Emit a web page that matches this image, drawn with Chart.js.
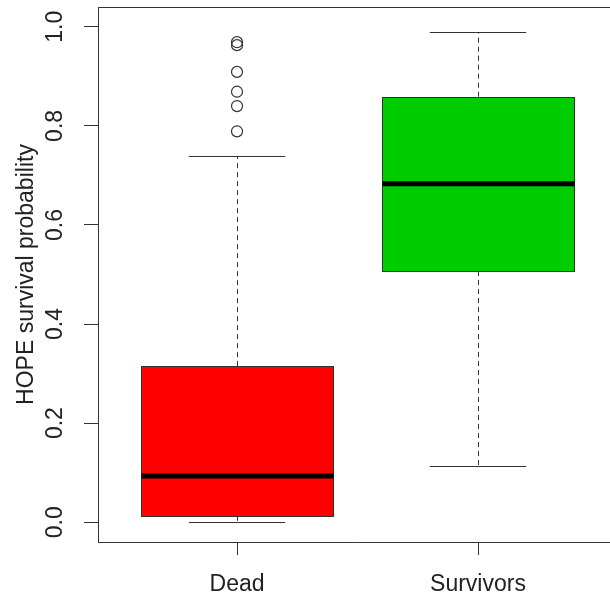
<!DOCTYPE html>
<html>
<head>
<meta charset="utf-8">
<script src="https://cdn.jsdelivr.net/npm/chart.js@4.4.1/dist/chart.umd.min.js"></script>
<style>
  html, body { margin: 0; padding: 0; background: #fff; }
</style>
</head>
<body>
<canvas id="myChart" width="610" height="599"></canvas>
<script>
const categories = ['Dead', 'Survivors'];
const whiskerLow = [0.000, 0.114];
const lowerQuartile = [0.013, 0.507];
const medians = [0.093, 0.683];
const upperQuartile = [0.315, 0.859];
const whiskerHigh = [0.739, 0.990];
const outliers = [
  [0.789, 0.840, 0.869, 0.909, 0.963, 0.969],
  []
];
const yTicks = [0.0, 0.2, 0.4, 0.6, 0.8, 1.0];

const boxColors = ['#ff0000', '#00cd00'];
const boxHalf = 0.4;   // half box width, x units
const capHalf = 0.2;   // half whisker cap width

const crisp = v => Math.round(v) + 0.5;

// draws the boxes, whiskers and medians from the arrays above
const boxPlugin = {
  id: 'boxes',
  beforeDatasetsDraw(chart) {
    const { ctx, scales: { x, y } } = chart;
    ctx.save();
    categories.forEach((c, i) => {
      const cx = crisp(x.getPixelForValue(i + 1));
      const left = x.getPixelForValue(i + 1 - boxHalf);
      const right = x.getPixelForValue(i + 1 + boxHalf);
      const capL = x.getPixelForValue(i + 1 - capHalf);
      const capR = x.getPixelForValue(i + 1 + capHalf);
      const yLo = crisp(y.getPixelForValue(whiskerLow[i]));
      const yQ1 = y.getPixelForValue(lowerQuartile[i]);
      const yMed = y.getPixelForValue(medians[i]);
      const yQ3 = y.getPixelForValue(upperQuartile[i]);
      const yHi = crisp(y.getPixelForValue(whiskerHigh[i]));

      // whiskers (dashed)
      ctx.strokeStyle = '#333';
      ctx.lineWidth = 1;
      ctx.setLineDash([5, 4]);
      ctx.beginPath();
      ctx.moveTo(cx, yQ3); ctx.lineTo(cx, yHi);
      ctx.moveTo(cx, yQ1); ctx.lineTo(cx, yLo);
      ctx.stroke();
      ctx.setLineDash([]);

      // caps
      ctx.beginPath();
      ctx.moveTo(capL, yHi); ctx.lineTo(capR, yHi);
      ctx.moveTo(capL, yLo); ctx.lineTo(capR, yLo);
      ctx.stroke();

      // box
      const bl = crisp(left), br = crisp(right), bt = crisp(yQ3), bb = crisp(yQ1);
      ctx.fillStyle = boxColors[i];
      ctx.fillRect(bl, bt, br - bl, bb - bt);
      ctx.strokeStyle = '#333';
      ctx.strokeRect(bl, bt, br - bl, bb - bt);

      // median
      ctx.strokeStyle = '#000';
      ctx.lineWidth = 5;
      ctx.beginPath();
      ctx.moveTo(bl, yMed); ctx.lineTo(br, yMed);
      ctx.stroke();
    });
    ctx.restore();
  },
  afterDraw(chart) {
    // top of the frame
    const { ctx, chartArea } = chart;
    ctx.save();
    ctx.strokeStyle = '#333';
    ctx.lineWidth = 1;
    ctx.beginPath();
    ctx.moveTo(chartArea.left, crisp(chartArea.top));
    ctx.lineTo(chartArea.right, crisp(chartArea.top));
    ctx.stroke();
    ctx.restore();
  }
};

const outlierPoints = outliers.flatMap((vals, i) => vals.map(v => ({ x: i + 1, y: v })));

const font = { family: '"Liberation Sans", Arial, sans-serif', size: 23 };

const ctx = document.getElementById('myChart').getContext('2d');
const myChart = new Chart(ctx, {
  type: 'scatter',
  data: {
    datasets: [{
      label: 'Outliers',
      data: outlierPoints,
      pointStyle: 'circle',
      pointRadius: 5.5,
      borderColor: '#333',
      backgroundColor: 'rgba(0,0,0,0)',
      borderWidth: 1.2
    }]
  },
  options: {
    responsive: false,
    animation: false,
    layout: { autoPadding: false, padding: { top: 7, right: 0, bottom: 0, left: 0 } },
    plugins: {
      legend: { display: false },
      tooltip: { enabled: false }
    },
    scales: {
      x: {
        type: 'linear',
        min: 0.4232,
        max: 2.5477,
        afterBuildTicks: axis => { axis.ticks = categories.map((c, i) => ({ value: i + 1 })); },
        afterFit: axis => { axis.height = 57; axis.paddingLeft = 0; axis.paddingRight = 0; },
        border: { display: true, color: '#333', width: 1 },
        grid: { display: true, drawOnChartArea: false, drawTicks: true, tickLength: 13, color: '#333' },
        ticks: {
          autoSkip: false,
          maxRotation: 0,
          padding: 16,
          color: '#222',
          font: font,
          callback: v => categories[v - 1]
        }
      },
      y: {
        type: 'linear',
        min: -0.04,
        max: 1.04,
        afterBuildTicks: axis => { axis.ticks = yTicks.map(v => ({ value: v })); },
        afterFit: axis => { axis.width = 98; axis.paddingTop = 0; axis.paddingBottom = 0; },
        border: { display: true, color: '#333', width: 1 },
        grid: { display: true, drawOnChartArea: false, drawTicks: true, tickLength: 14, color: '#333' },
        ticks: {
          autoSkip: false,
          minRotation: 90,
          maxRotation: 90,
          crossAlign: 'center',
          padding: 12,
          color: '#222',
          font: font,
          callback: v => v.toFixed(1)
        },
        title: {
          display: true,
          text: 'HOPE survival probability',
          color: '#222',
          font: font,
          padding: { top: 13, bottom: 0 }
        }
      }
    }
  },
  plugins: [boxPlugin]
});
</script>
</body>
</html>
